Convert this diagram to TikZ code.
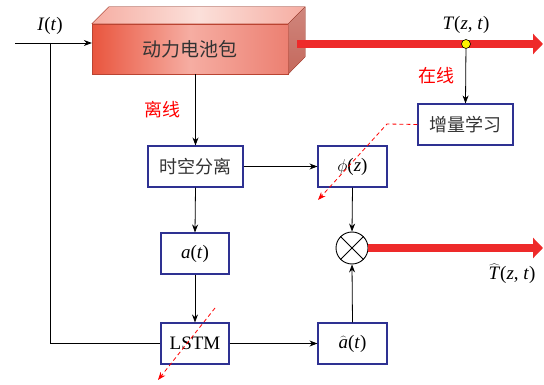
\documentclass[tikz,border=0pt]{standalone}
\usepackage{fontspec}
\setmainfont{Liberation Serif}
\newfontfamily\cjk{Noto Sans CJK SC}
\usetikzlibrary{arrows.meta,calc}
\definecolor{boxblue}{HTML}{2E3192}
\definecolor{hotred}{HTML}{EE2A2A}
\definecolor{batleft}{HTML}{E9553E}
\definecolor{batmid}{HTML}{F6ADA2}
\definecolor{batright}{HTML}{EC8072}
\definecolor{battop}{HTML}{FBE0DA}
\definecolor{batside}{HTML}{C4685C}
\newcommand\hatover[1]{$\widehat{\hbox{#1}}$}
\tikzset{
  blockbox/.style={draw=boxblue,line width=1.1pt,fill=white,minimum width=69pt,minimum height=41pt,inner sep=0pt,font=\fontsize{19}{21}\selectfont},
  cjkbox/.style={blockbox,font=\cjk\fontsize{18}{20}\selectfont,text=black!80},
  conn/.style={black,line width=0.8pt,-{Stealth[length=8pt,width=6pt]}},
  bigarrow/.style={hotred,line width=8pt,-{Triangle[length=10pt,width=20pt]}},
  reddash/.style={red,line width=0.8pt,dash pattern=on 4pt off 3pt,-{Stealth[length=8pt,width=6pt]}},
  lbl/.style={font=\fontsize{19}{21}\selectfont,inner sep=0pt},
  redlbl/.style={text=red,font=\cjk\fontsize{18}{20}\selectfont,inner sep=0pt}
}
\begin{document}
\begin{tikzpicture}[x=1pt,y=-1pt]
\useasboundingbox (0,0) rectangle (544,385);
% battery
\node[minimum width=196pt,minimum height=50pt,inner sep=0pt,left color=batleft,right color=batright,middle color=batmid,draw=batleft!80!black,line width=0.3pt,font=\cjk\fontsize{19}{21}\selectfont,text=black!80] (bat) at (190,49) {动力电池包};
\fill[left color=batmid,right color=batmid,middle color=battop,draw=batleft!80!black,line width=0.3pt] (bat.north west) -- ++(17,-17) -- ++(196,0) -- (bat.north east) -- cycle;
\fill[top color=batside!80!white,bottom color=batside,draw=batleft!80!black,line width=0.3pt] (bat.north east) -- ++(17,-17) -- ++(0,50) -- (bat.south east) -- cycle;
% blocks
\node[cjkbox,minimum width=95pt] (sep) at (195.5,166.5) {时空分离};
\node[blockbox] (phi) at (352.5,166.5) {$\phi$(\textit{z})};
\node[cjkbox,minimum width=95pt] (inc) at (465.5,124.5) {增量学习};
\node[blockbox,minimum width=68pt] (a) at (195,253.5) {\textit{a}(\textit{t})};
\node[blockbox,minimum width=68pt] (lstm) at (195,343.5) {LSTM};
\node[blockbox] (ahat) at (352.5,343.5) {\hatover{\textit{a}}(\textit{t})};
\node[circle,draw=black,line width=0.9pt,minimum size=32pt,inner sep=0pt] (ot) at (352,248) {};
\draw[line width=0.9pt] (ot.45) -- (ot.225) (ot.135) -- (ot.315);
% input
\coordinate (in) at (15,43);
\coordinate (split) at (50,43);
\draw[conn] (in) -- (bat.west |- in);
\draw[black,line width=0.8pt] (split) -- (split |- lstm.west) -- (lstm.west);
\node[lbl] (it) at (50,26) {\textit{I}(\textit{t})};
% red top arrow
\coordinate (rs) at (297,44);
\coordinate (re) at (543,44);
\draw[bigarrow] (rs) -- (re);
\node[circle,fill=yellow,draw=black,line width=0.6pt,minimum size=9pt,inner sep=0pt] (dot) at (466,44) {};
\node[lbl] (tzt) at (466,25) {\textit{T}(\textit{z}, \textit{t})};
\draw[conn] (dot) -- (inc.north);
\node[redlbl] (online) at (436,76) {在线};
\node[redlbl] (offline) at (162,110) {离线};
% black connectors
\draw[conn] (bat.south -| sep.north) -- (sep.north);
\draw[conn] (sep.east) -- (phi.west);
\draw[conn] (sep.south) -- (a.north);
\draw[conn] (a.south) -- (lstm.north);
\draw[conn] (lstm.east) -- (ahat.west);
\draw[conn] (ahat.north) -- (ot.south);
\draw[conn] (phi.south) -- (ot.north);
% output
\coordinate (oe) at (543,248);
\draw[bigarrow] (ot.east) -- (oe);
\node[lbl] (that) at (512,274) {\hatover{\textit{T}}(\textit{z}, \textit{t})};
% red dashed
\coordinate (bend) at (387,124);
\coordinate (d1) at (318,200);
\draw[reddash] (inc.west) -- (bend) -- (d1);
\coordinate (d2s) at (215,308);
\coordinate (d2e) at (158,380);
\draw[reddash] (d2s) -- (d2e);
\end{tikzpicture}
\end{document}
